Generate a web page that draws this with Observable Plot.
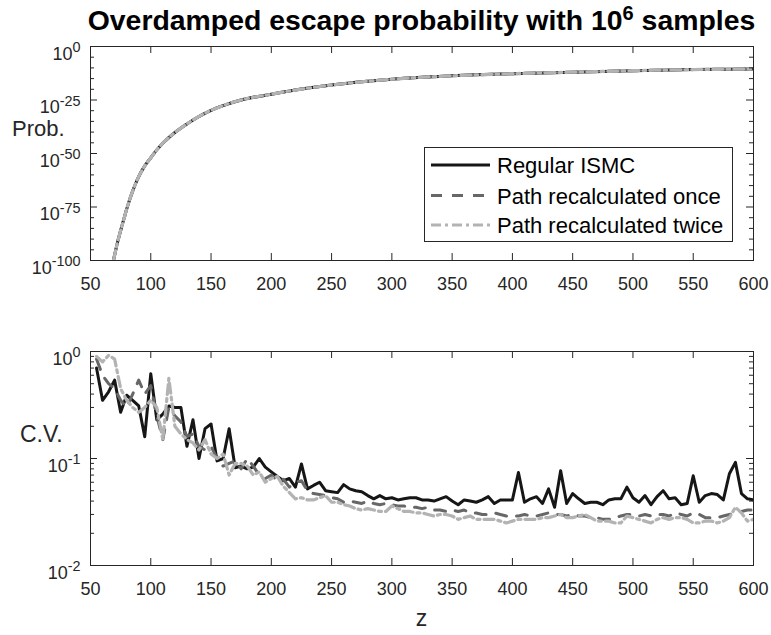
<!DOCTYPE html>
<html><head><meta charset="utf-8">
<script src="https://cdn.jsdelivr.net/npm/d3@7"></script>
<script src="https://cdn.jsdelivr.net/npm/@observablehq/plot@0.6"></script>
<style>
body{margin:0;background:#fff;}
#wrap{position:relative;width:771px;height:635px;overflow:hidden;font-family:"Liberation Sans",Arial,Helvetica,sans-serif;}
#wrap > svg, #wrap > figure{position:absolute;left:0;margin:0;}
</style></head>
<body><div id="wrap"></div>
<script>
// ---------- data ----------
const seriesNames = ["Regular ISMC", "Path recalculated once", "Path recalculated twice"];
// top panel: escape probability (log10 values; the three curves coincide)
const zTop = [69, 70, 72, 75, 78, 80, 85, 90, 95, 100, 105, 110, 120, 130, 140, 150, 160, 175, 200, 225, 250, 275, 300, 350, 400, 450, 500, 550, 600];
const log10ProbTop = [-100, -97.5, -92.5, -86, -80, -76, -67.5, -60.8, -55.8, -52, -48.3, -45.2, -40.2, -36.2, -32.7, -29.8, -27.6, -25, -22.3, -19.9, -18, -16.5, -15.3, -13.7, -12.7, -12, -11.3, -10.8, -10.5];
// bottom panel: coefficient of variation
const zCV = [55,60,65,70,75,80,85,90,95,100,105,110,115,120,125,130,135,140,145,150,155,160,165,170,175,180,185,190,195,200,
205,210,215,220,225,230,235,240,245,250,255,260,265,270,275,280,285,290,295,300,305,310,315,320,325,330,335,340,345,350,
355,360,365,370,375,380,385,390,395,400,405,410,415,420,425,430,435,440,445,450,455,460,465,470,475,480,485,490,495,500,
505,510,515,520,525,530,535,540,545,550,555,560,565,570,575,580,585,590,595,600];
const cvRegular = [0.70,0.35,0.42,0.54,0.27,0.39,0.35,0.31,0.16,0.62,
 0.23,0.26,0.31,0.30,0.30,0.13,0.23,0.10,0.19,0.21,
 0.095,0.10,0.19,0.082,0.085,0.080,0.083,0.10,0.083,0.075,
 0.068,0.062,0.065,0.054,0.089,0.052,0.056,0.060,0.050,0.049,
 0.048,0.057,0.052,0.050,0.049,0.045,0.042,0.045,0.042,0.043,
 0.041,0.042,0.043,0.043,0.041,0.041,0.040,0.042,0.044,0.040,
 0.037,0.041,0.040,0.039,0.041,0.044,0.038,0.041,0.041,0.041,
 0.074,0.039,0.042,0.044,0.038,0.052,0.035,0.077,0.038,0.047,
 0.042,0.038,0.039,0.039,0.037,0.041,0.042,0.042,0.054,0.043,
 0.039,0.045,0.037,0.044,0.050,0.042,0.043,0.037,0.038,0.069,
 0.039,0.045,0.047,0.046,0.041,0.072,0.092,0.047,0.042,0.041];
const cvOnce = [0.85,0.60,0.50,0.45,0.35,0.30,0.40,0.54,0.40,0.48,
 0.25,0.15,0.30,0.25,0.22,0.16,0.17,0.13,0.12,0.13,
 0.10,0.085,0.09,0.095,0.08,0.10,0.085,0.07,0.065,0.07,
 0.062,0.064,0.054,0.060,0.062,0.050,0.047,0.046,0.045,0.043,
 0.042,0.039,0.040,0.039,0.038,0.040,0.038,0.037,0.038,0.037,
 0.036,0.036,0.035,0.035,0.034,0.035,0.033,0.033,0.032,0.033,
 0.032,0.033,0.031,0.031,0.030,0.030,0.031,0.030,0.029,0.029,
 0.029,0.030,0.029,0.029,0.030,0.031,0.030,0.030,0.029,0.030,
 0.029,0.029,0.028,0.028,0.027,0.027,0.028,0.029,0.030,0.030,
 0.029,0.030,0.029,0.030,0.030,0.029,0.031,0.030,0.029,0.031,
 0.030,0.028,0.028,0.028,0.029,0.030,0.031,0.032,0.033,0.033];
const cvTwice = [0.90,0.80,0.92,0.85,0.45,0.35,0.30,0.27,0.30,0.35,
 0.30,0.15,0.56,0.20,0.17,0.15,0.14,0.12,0.15,0.11,
 0.10,0.11,0.07,0.09,0.09,0.085,0.07,0.075,0.06,0.065,
 0.068,0.055,0.048,0.042,0.043,0.041,0.041,0.043,0.045,0.039,
 0.039,0.037,0.036,0.034,0.033,0.034,0.033,0.032,0.032,0.036,
 0.034,0.032,0.032,0.031,0.031,0.030,0.029,0.030,0.030,0.029,
 0.027,0.028,0.029,0.027,0.027,0.027,0.027,0.026,0.025,0.026,
 0.027,0.027,0.027,0.027,0.028,0.028,0.029,0.030,0.028,0.028,
 0.029,0.030,0.028,0.026,0.026,0.026,0.025,0.025,0.029,0.028,
 0.027,0.026,0.025,0.027,0.028,0.027,0.028,0.028,0.027,0.025,
 0.025,0.026,0.026,0.025,0.026,0.028,0.035,0.031,0.026,0.027];
// ticks
const xTicks = [50,100,150,200,250,300,350,400,450,500,550,600];
const yTicksTop = [1e-100, 1e-75, 1e-50, 1e-25, 1];
const yMinorTop = [1e-95,1e-90,1e-85,1e-80,1e-70,1e-65,1e-60,1e-55,1e-45,1e-40,1e-35,1e-30,1e-20,1e-15,1e-10,1e-5];
const yTicksBot = [1e-2, 1e-1, 1];
const yMinorBot = [0.02,0.03,0.04,0.05,0.06,0.07,0.08,0.09,0.2,0.3,0.4,0.5,0.6,0.7,0.8,0.9];

// ---------- styles ----------
const colors = ["#161616", "#676767", "#b3b3b3"];
const dashes = [null, "11,10", "10,4,3,4"];
const widths = [3, 3, 3.2];
const axisColor = "#262626";
const FONT = "Liberation Sans, Arial, Helvetica, sans-serif";
const W = 771, ML = 90, MR = 18;
const FW = W - ML - MR;     // frame width
const FH = 214;             // frame height
const TICK = 7, MINOR = 4;
const fmtPow = d => "10^" + Math.round(Math.log10(d));

function axes(yMajor, yMinor) {
  const tk = {stroke: axisColor, strokeWidth: 1};
  return [
    Plot.frame({stroke: axisColor, strokeWidth: 1}),
    // inward tick marks on all four sides
    Plot.ruleX(xTicks, {...tk, insetTop: FH - TICK}),
    Plot.ruleX(xTicks, {...tk, insetBottom: FH - TICK}),
    Plot.ruleY(yMajor, {...tk, insetRight: FW - TICK}),
    Plot.ruleY(yMajor, {...tk, insetLeft: FW - TICK}),
    Plot.ruleY(yMinor, {...tk, insetRight: FW - MINOR}),
    Plot.ruleY(yMinor, {...tk, insetLeft: FW - MINOR}),
    // tick labels
    Plot.axisX(xTicks, {anchor: "bottom", tickSize: 0, tickPadding: 17, label: null, color: axisColor, tickFormat: d => String(d)}),
    Plot.axisY(yMajor, {anchor: "left", tickSize: 0, tickPadding: 10, label: null, color: axisColor, tickFormat: fmtPow})
  ];
}

// render "10^e" tick labels as 10 with a raised exponent
function supify(svg) {
  const ns = "http://www.w3.org/2000/svg";
  svg.querySelectorAll("text").forEach(t => {
    const m = /^10\^(-?\d+)$/.exec(t.textContent);
    if (!m) return;
    t.textContent = "";
    t.setAttribute("dy", "0.42em");
    const a = document.createElementNS(ns, "tspan"); a.textContent = "10"; t.appendChild(a);
    const b = document.createElementNS(ns, "tspan"); b.textContent = m[1];
    b.setAttribute("dy", "-0.53em"); b.setAttribute("font-size", "0.8em"); t.appendChild(b);
  });
}

const wrap = document.getElementById("wrap");

// ---------- top panel ----------
const topData = zTop.map((z, i) => ({z, p: Math.pow(10, log10ProbTop[i])}));
const topPlot = Plot.plot({
  width: W, height: 46 + FH + 40,
  marginLeft: ML, marginRight: MR, marginTop: 46, marginBottom: 40,
  style: {fontFamily: FONT, fontSize: "18px", color: axisColor, background: "transparent", overflow: "visible"},
  x: {domain: [50, 600], axis: null},
  y: {type: "log", domain: [1e-100, 1], axis: null},
  marks: [
    ...[0, 1, 2].map(k => Plot.line(topData, {x: "z", y: "p", stroke: colors[k], strokeWidth: widths[k], strokeDasharray: dashes[k], curve: "monotone-x", clip: true})),
    ...axes(yTicksTop, yMinorTop)
  ]
});
topPlot.style.top = "0px";
supify(topPlot);
wrap.appendChild(topPlot);

// ---------- bottom panel ----------
const cvSeries = [cvRegular, cvOnce, cvTwice];
const botPlot = Plot.plot({
  width: W, height: 51 + FH + 70,
  marginLeft: ML, marginRight: MR, marginTop: 51, marginBottom: 70,
  style: {fontFamily: FONT, fontSize: "18px", color: axisColor, background: "transparent", overflow: "visible"},
  x: {domain: [50, 600], axis: null},
  y: {type: "log", domain: [1e-2, 1], axis: null},
  marks: [
    ...[0, 1, 2].map(k => Plot.line(zCV.map((z, i) => ({z, v: cvSeries[k][i]})), {x: "z", y: "v", stroke: colors[k], strokeWidth: widths[k], strokeDasharray: dashes[k], clip: true})),
    ...axes(yTicksBot, yMinorBot)
  ]
});
botPlot.style.top = "300px";
supify(botPlot);
wrap.appendChild(botPlot);

// ---------- overlay: title, axis labels, legend ----------
const ns = "http://www.w3.org/2000/svg";
const ov = document.createElementNS(ns, "svg");
ov.setAttribute("width", W); ov.setAttribute("height", 635);
ov.style.top = "0px"; ov.style.fontFamily = FONT; ov.style.pointerEvents = "none";
function txt(x, y, s, attrs = {}) {
  const t = document.createElementNS(ns, "text");
  t.setAttribute("x", x); t.setAttribute("y", y);
  for (const k in attrs) t.setAttribute(k, attrs[k]);
  if (s != null) t.textContent = s;
  ov.appendChild(t); return t;
}
// title
const title = txt(421.5, 30, null, {"text-anchor": "middle", "font-size": 28.4, "font-weight": "bold", fill: "#000"});
const t1 = document.createElementNS(ns, "tspan"); t1.textContent = "Overdamped escape probability with 10"; title.appendChild(t1);
const t2 = document.createElementNS(ns, "tspan"); t2.textContent = "6"; t2.setAttribute("dy", "-10"); t2.setAttribute("font-size", 20); title.appendChild(t2);
const t3 = document.createElementNS(ns, "tspan"); t3.textContent = " samples"; t3.setAttribute("dy", "10"); title.appendChild(t3);
// axis labels
txt(12, 136, "Prob.", {"font-size": 22, fill: axisColor});
txt(20, 442, "C.V.", {"font-size": 23, fill: axisColor});
txt(421.5, 626, "z", {"font-size": 23, fill: axisColor, "text-anchor": "middle"});
// legend
const box = document.createElementNS(ns, "rect");
box.setAttribute("x", 424.5); box.setAttribute("y", 147.5); box.setAttribute("width", 308); box.setAttribute("height", 94);
box.setAttribute("fill", "#fff"); box.setAttribute("stroke", axisColor); box.setAttribute("stroke-width", 1);
ov.appendChild(box);
const legY = [165, 195.5, 225];
seriesNames.forEach((name, k) => {
  const l = document.createElementNS(ns, "line");
  l.setAttribute("x1", 431); l.setAttribute("x2", 490); l.setAttribute("y1", legY[k]); l.setAttribute("y2", legY[k]);
  l.setAttribute("stroke", colors[k]); l.setAttribute("stroke-width", widths[k]);
  if (dashes[k]) l.setAttribute("stroke-dasharray", dashes[k]);
  ov.appendChild(l);
  txt(497, legY[k] + 8, name, {"font-size": 22, fill: "#000"});
});
wrap.appendChild(ov);
</script>
</body></html>
